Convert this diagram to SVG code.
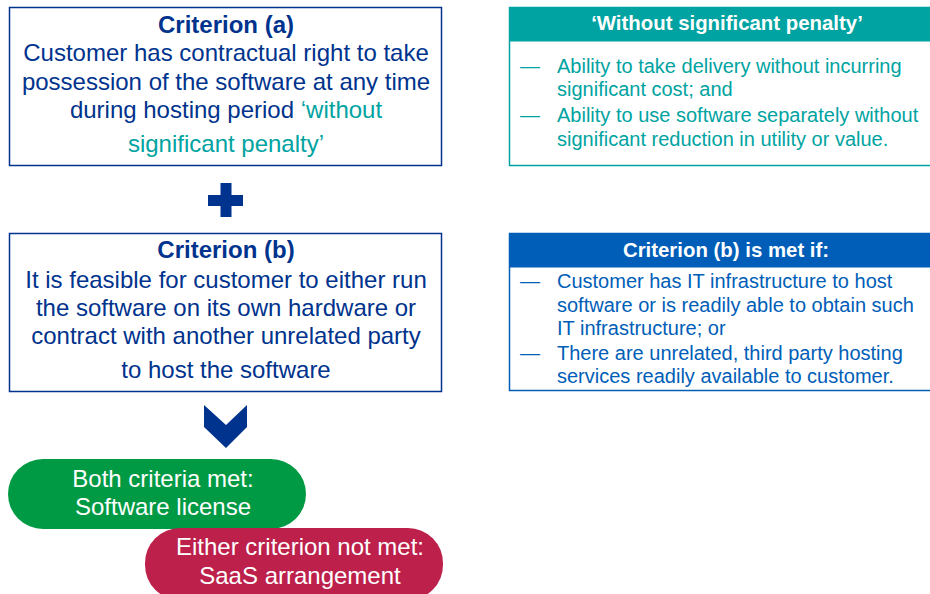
<svg xmlns="http://www.w3.org/2000/svg" width="930" height="594" viewBox="0 0 930 594">
<style>
text{font-family:"Liberation Sans",Arial,sans-serif}
.main{fill:#fff;stroke:#00338D;stroke-width:1.5}
.mt{font-size:24px;fill:#00338D;text-anchor:middle}
.b{font-weight:bold}
.teal{fill:#00A3A1}
.bt{font-size:20px}
.hd{font-size:20.4px;font-weight:bold;fill:#fff;text-anchor:middle}
.pill{font-size:24px;fill:#fff;text-anchor:middle}
</style>
<rect width="930" height="594" fill="#fff"/>
<g id="criterion-a">
<rect class="main" x="9.5" y="7.5" width="432" height="158"/>
<text class="mt b" x="226" y="33">Criterion (a)</text>
<text class="mt" x="226" y="61">Customer has contractual right to take</text>
<text class="mt" x="226" y="90">possession of the software at any time</text>
<text class="mt" x="226" y="118">during hosting period <tspan class="teal">‘without</tspan></text>
<text class="mt teal" x="226" y="152">significant penalty’</text>
</g>
<g id="without-penalty">
<rect x="509.5" y="7.5" width="430" height="158" fill="#fff" stroke="#00A3A1" stroke-width="1.5"/>
<rect x="509.5" y="7.5" width="430" height="34" fill="#00A3A1"/>
<text class="hd" x="727" y="30">‘Without significant penalty’</text>
<g class="bt teal">
<text x="520" y="73">—</text>
<text x="557" y="73">Ability to take delivery without incurring</text>
<text x="557" y="96">significant cost; and</text>
<text x="520" y="122">—</text>
<text x="557" y="122">Ability to use software separately without</text>
<text x="557" y="146">significant reduction in utility or value.</text>
</g>
</g>
<g id="plus">
<rect x="208" y="195" width="35" height="11" fill="#00338D"/>
<rect x="220.5" y="183" width="11" height="34" fill="#00338D"/>
</g>
<g id="criterion-b">
<rect class="main" x="9.5" y="233.5" width="432" height="158"/>
<text class="mt b" x="226" y="258">Criterion (b)</text>
<text class="mt" x="226" y="288">It is feasible for customer to either run</text>
<text class="mt" x="226" y="316">the software on its own hardware or</text>
<text class="mt" x="226" y="344">contract with another unrelated party</text>
<text class="mt" x="226" y="378">to host the software</text>
</g>
<g id="criterion-b-met">
<rect x="509.5" y="233.5" width="430" height="157" fill="#fff" stroke="#005EB8" stroke-width="1.5"/>
<rect x="509.5" y="233.5" width="430" height="34" fill="#005EB8"/>
<text class="hd" x="726" y="257">Criterion (b) is met if:</text>
<g class="bt" fill="#005EB8">
<text x="520" y="288">—</text>
<text x="557" y="288">Customer has IT infrastructure to host</text>
<text x="557" y="312">software or is readily able to obtain such</text>
<text x="557" y="335">IT infrastructure; or</text>
<text x="520" y="360">—</text>
<text x="557" y="360">There are unrelated, third party hosting</text>
<text x="557" y="383">services readily available to customer.</text>
</g>
</g>
<g id="connectors">
<polygon points="204,405 226,425 247,405 247,427 226,448 204,427" fill="#00338D"/>
</g>
<g id="both-met">
<rect x="8" y="459" width="298" height="70" rx="35" fill="#009A44"/>
<text class="pill" x="163" y="487">Both criteria met:</text>
<text class="pill" x="163" y="515">Software license</text>
</g>
<g id="not-met">
<rect x="145" y="528" width="298" height="72" rx="35" fill="#BC204B"/>
<text class="pill" x="300" y="555">Either criterion not met:</text>
<text class="pill" x="300" y="584">SaaS arrangement</text>
</g>
</svg>
